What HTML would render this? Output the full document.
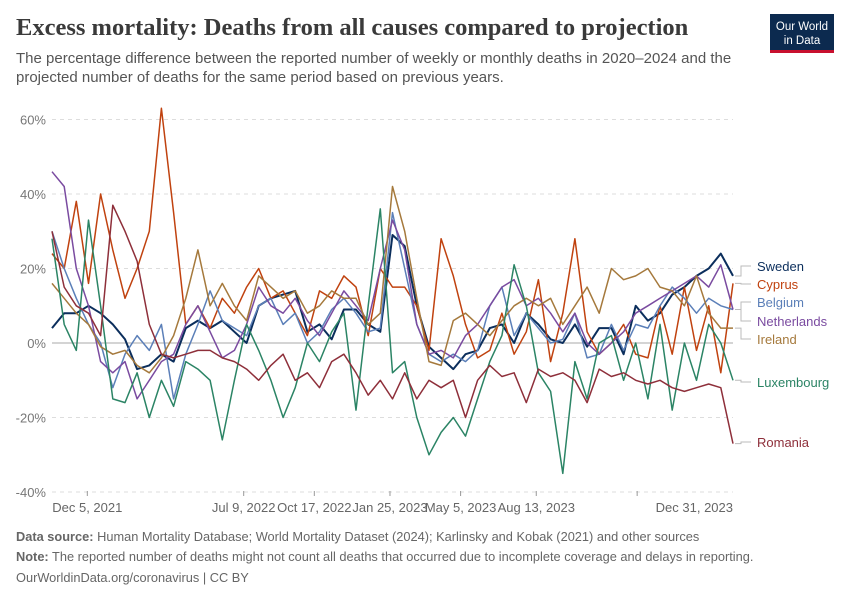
<!DOCTYPE html>
<html><head><meta charset="utf-8"><style>
body{margin:0;background:#fff;width:850px;height:600px;overflow:hidden;font-family:"Liberation Sans",sans-serif}
</style></head><body>
<svg width="850" height="600" xmlns="http://www.w3.org/2000/svg">
<text x="16" y="35" font-family="Liberation Serif,serif" font-size="24.5" font-weight="bold" fill="#3a3a3a">Excess mortality: Deaths from all causes compared to projection</text>
<text x="16" y="63" font-size="15" fill="#555">The percentage difference between the reported number of weekly or monthly deaths in 2020–2024 and the</text>
<text x="16" y="82" font-size="15" fill="#555">projected number of deaths for the same period based on previous years.</text>
<g><rect x="770" y="14" width="64" height="38" fill="#0c2a4f"/><rect x="770" y="50" width="64" height="3" fill="#c8102e"/>
<text x="802" y="30" font-size="11.5" fill="#fff" text-anchor="middle">Our World</text><text x="802" y="44" font-size="11.5" fill="#fff" text-anchor="middle">in Data</text></g>
<g id="grid"></g><g id="lines"></g><g id="labels"></g>
<text x="16" y="541" font-size="12.8" fill="#666"><tspan font-weight="bold">Data source:</tspan> Human Mortality Database; World Mortality Dataset (2024); Karlinsky and Kobak (2021) and other sources</text>
<text x="16" y="561" font-size="12.8" fill="#666"><tspan font-weight="bold">Note:</tspan> The reported number of deaths might not count all deaths that occurred due to incomplete coverage and delays in reporting.</text>
<text x="16" y="582" font-size="12.8" fill="#666">OurWorldinData.org/coronavirus | CC BY</text>
</svg>
<script>
const yTicks=[60,40,20,0,-20,-40];
const xTickLabels=["Dec 5, 2021","Jul 9, 2022","Oct 17, 2022","Jan 25, 2023","May 5, 2023","Aug 13, 2023","Dec 31, 2023"];
const xTickWeeks=[7,38,52,67,81,96,116];
const seriesNames=["Sweden","Cyprus","Belgium","Netherlands","Ireland","Luxembourg","Romania"];
const sweden=[4,8,8,10,8,5,1,-7,-6,-3,-5,4,6,4,6,3,0,10,12,13,14,3,5,1,9,9,5,3,29,26,10,-1,-4,-7,-3,-2,4,5,0,8,5,1,0,5,-1,4,4,-3,10,6,8,13,15,18,20,24,18];
const cyprus=[24,20,38,16,40,25,12,20,30,63,35,5,10,4,12,8,15,20,12,14,8,2,14,12,18,15,2,20,15,15,10,-2,28,18,5,-4,-2,8,-3,3,17,-5,8,28,3,-3,0,5,-3,-4,10,-3,15,-2,10,-8,16];
const belgium=[30,20,12,5,0,-12,-3,2,-2,5,-15,-3,5,14,6,4,2,10,12,5,8,0,3,9,12,8,3,4,35,20,5,-3,-5,-3,-5,-2,10,15,2,8,4,0,1,8,-4,-3,5,-2,5,4,10,15,12,8,12,10,9];
const netherlands=[46,42,20,10,-5,-8,-5,-15,-10,-5,-3,5,10,3,-4,-2,5,15,10,8,12,6,2,8,14,10,6,20,33,25,5,-3,-2,-4,2,5,10,15,17,10,12,8,3,8,0,-3,0,3,8,10,12,14,16,18,15,21,9];
const ireland=[16,12,8,5,-1,-3,-2,-6,-8,-4,2,12,25,10,16,10,6,18,15,12,14,8,10,14,12,12,5,8,42,30,12,-5,-6,6,8,5,2,6,10,12,10,12,5,10,15,8,20,17,18,20,15,14,10,18,8,4,4];
const luxembourg=[28,5,-2,33,10,-15,-16,-8,-20,-10,-17,-5,-7,-10,-26,-10,5,-2,-10,-20,-12,0,-5,3,8,-18,10,36,-8,-5,-20,-30,-24,-20,-25,-15,-5,2,21,10,-8,-13,-35,-5,-15,0,2,-10,0,-15,5,-18,0,-10,5,0,-10];
const romania=[30,15,10,8,2,37,30,22,5,-3,-4,-3,-2,-2,-4,-5,-7,-10,-6,-3,-10,-8,-12,-5,-3,-8,-14,-10,-15,-8,-15,-10,-12,-10,-20,-10,-6,-9,-8,-16,-7,-9,-8,-10,-16,-7,-9,-8,-10,-11,-10,-12,-13,-12,-11,-12,-27];
const seriesData=[sweden,cyprus,belgium,netherlands,ireland,luxembourg,romania];
const colors=["#0b2e5c","#c0420f","#5b7fb8","#7a4ba0","#a5793c","#2b8465","#8e2f3a"];
const labelY=[266,284,302,321,339,382,442];
const NS="http://www.w3.org/2000/svg";
const X0=52,X1=733,totalWeeks=135;
const yScale=v=>343-v*3.725;
const idxX=(i,n)=>X0+(X1-X0)*i/(n-1);
const weekX=w=>X0+(X1-X0)*w/totalWeeks;
function mk(t,a,p){const e=document.createElementNS(NS,t);for(const k in a)e.setAttribute(k,a[k]);p.appendChild(e);return e;}
const grid=document.getElementById('grid');
yTicks.forEach(t=>{
 const l=mk('line',{x1:X0,x2:X1,y1:yScale(t),y2:yScale(t),stroke:t===0?'#aaa':'#ddd','stroke-width':1,'stroke-dasharray':t===0?'':'4,4'},grid);
 
 
 const tx=mk('text',{x:46,y:yScale(t)+5,'font-size':13,fill:'#777','text-anchor':'end'},grid);
 tx.textContent=t+'%';
 
 
});
xTickLabels.forEach((s,i)=>{
 const x=weekX(xTickWeeks[i]);
 const tk=mk('line',{x1:x,x2:x,y1:491,y2:496,stroke:'#999'},grid);
 
 
 const last=i===xTickLabels.length-1;
 const tx=mk('text',{x:last?X1:x,y:512,'font-size':13,fill:'#666','text-anchor':last?'end':'middle'},grid);
 tx.textContent=s;
 
 
});
const lg=document.getElementById('lines'),lb=document.getElementById('labels');
seriesData.forEach((d,s)=>{
 const pts=d.map((v,i)=>idxX(i,d.length).toFixed(1)+','+yScale(v).toFixed(1)).join(' ');
 const p=mk('polyline',{points:pts,fill:'none',stroke:colors[s],'stroke-width':s===0?2:1.5,'stroke-linejoin':'round'},lg);
 
 
 const ey=yScale(d[d.length-1]);
 const c=mk('polyline',{points:`${X1+2},${ey} ${X1+8},${ey} ${X1+8},${labelY[s]} ${X1+18},${labelY[s]}`,fill:'none',stroke:'#bbb','stroke-width':1},lb);
 
 
 const t=mk('text',{x:757,y:labelY[s]+5,'font-size':13,fill:colors[s]},lb);
 t.textContent=seriesNames[s];
 
 
});
</script>
</body></html>
